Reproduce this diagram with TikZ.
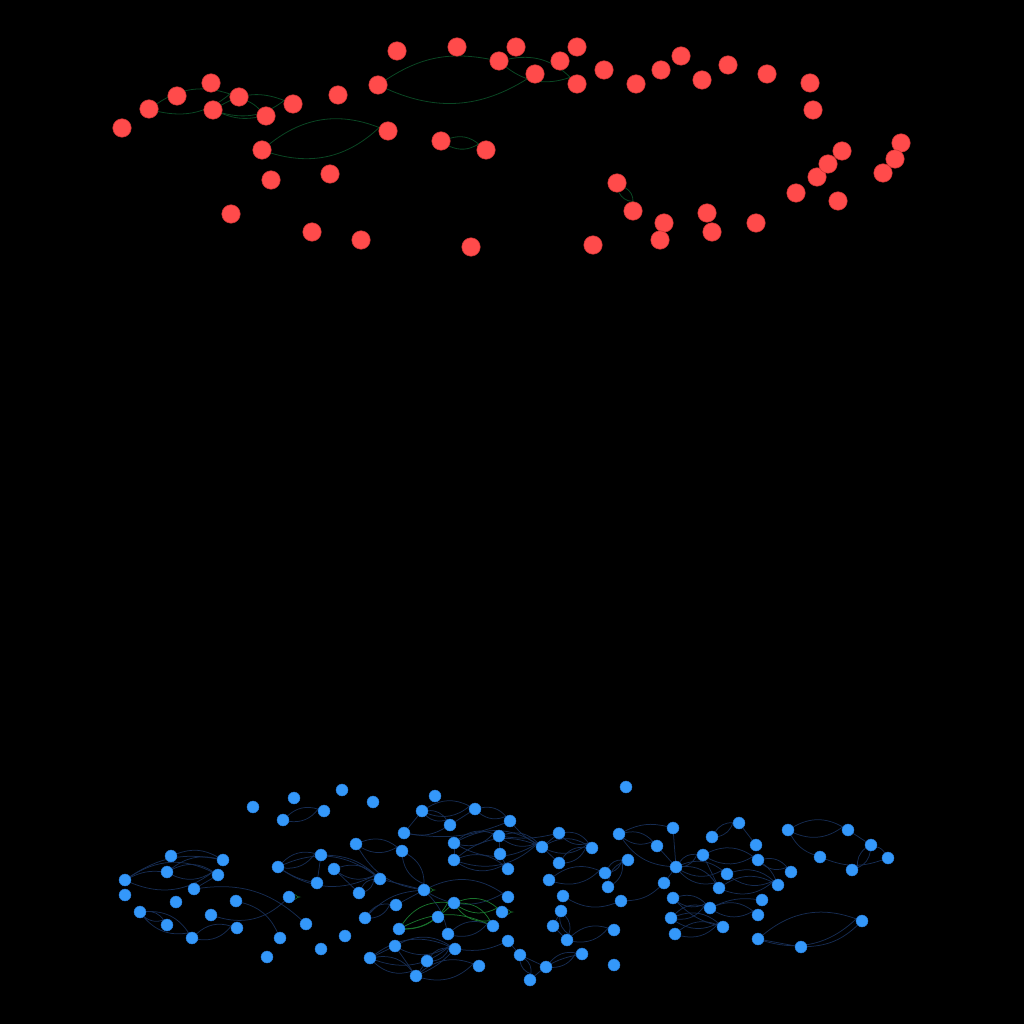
\documentclass[tikz,border=0pt]{standalone}
\usetikzlibrary{backgrounds}
\definecolor{rfill}{RGB}{255,75,75}
\definecolor{rline}{RGB}{200,50,50}
\definecolor{bfill}{RGB}{52,152,250}
\definecolor{bline}{RGB}{40,120,210}
\definecolor{redge}{RGB}{10,70,35}
\definecolor{bedge}{RGB}{22,44,82}
\definecolor{gedge}{RGB}{25,115,45}
\pgfdeclarelayer{bg}
\pgfsetlayers{bg,main}
\tikzset{
  rn/.style={circle,fill=rfill,draw=rline,line width=0.5pt,minimum size=18.5pt,inner sep=0pt},
  bn/.style={circle,fill=bfill,draw=bline,line width=0.4pt,minimum size=12pt,inner sep=0pt},
  re/.style={draw=redge,line width=0.8pt},
  be/.style={draw=bedge,line width=0.75pt},
  ge/.style={draw=gedge,line width=0.75pt},
}
\begin{document}
\begin{tikzpicture}[x=1pt,y=-1pt]
\begin{pgfonlayer}{bg}
\fill[black] (0,0) rectangle (1024,1024);
\end{pgfonlayer}
\useasboundingbox (0,0) rectangle (1024,1024);
% red nodes
\foreach \n/\x/\y in {397/397/51,457/457/47,516/516/47,577a/577/47,499/499/61,560/560/61,535/535/74,577b/577/84,604/604/70,636/636/84,661/661/70,681/681/56,702/702/80,728/728/65,767/767/74,810/810/83,813/813/110,378/378/85,338/338/95,293/293/104,266/266/116,239/239/97,213/213/110,211/211/83,177/177/96,149/149/109,122/122/128,262/262/150,388/388/131,441/441/141,486/486/150,271/271/180,330/330/174,231/231/214,312/312/232,361/361/240,471/471/247,593/593/245,617/617/183,633/633/211,664/664/223,660/660/240,707/707/213,712/712/232,756/756/223,796/796/193,817/817/177,828/828/164,842/842/151,838/838/201,901/901/143,895/895/159,883/883/173}
  {\node[rn] (r\n) at (\x,\y) {};}
% blue nodes
\foreach \x/\y in {253/807,294/798,324/811,283/820,171/856,223/860,167/872,218/875,125/880,125/895,194/889,176/902,140/912,236/901,167/925,211/915,192/938,237/928,289/897,306/924,280/938,267/957,321/949,278/867,321/855,317/883,
342/790,373/802,435/796,422/811,475/809,450/825,510/821,404/833,356/844,402/851,454/843,499/836,542/847,500/854,454/860,508/869,334/869,380/879,359/893,424/890,508/897,396/905,454/903,502/912,365/918,438/917,493/926,399/929,448/934,345/936,395/946,455/949,508/941,370/958,427/961,479/966,416/976,520/955,546/967,530/980,
626/787,559/833,592/848,559/863,619/834,673/828,657/846,712/837,739/823,628/860,605/873,608/887,549/880,676/867,703/855,727/874,664/883,719/888,563/896,621/901,673/898,561/911,710/908,553/926,671/918,723/927,614/930,675/934,567/940,582/954,614/965,
788/830,848/830,756/845,871/845,758/860,820/857,888/858,791/872,852/870,778/885,762/900,758/915,862/921,758/939,801/947}
  {\node[bn] (b\x x\y) at (\x,\y) {};}
\begin{pgfonlayer}{bg}
% red connectors
\foreach \a/\b/\c in {149/239/26,213/293/26,262/388/30,441/486/28,499/577b/28,617/633/30}
  {\draw[re] (r\a) to[bend left=\c] (r\b) to[bend left=\c] (r\a);}
\draw[re] (r378) to[bend left=22] (r499);
\draw[re] (r535) to[bend left=28] (r378);
\draw[re] (r239) to[bend left=10] (r266);
\draw[re] (r213) to[bend right=15] (r266);
% blue lenses
\foreach \a/\b in {283x820/324x811,167x872/218x875,125x880/218x875,140x912/167x925,140x912/192x938,192x938/237x928,278x867/321x855,
422x811/475x809,422x811/450x825,475x809/510x821,454x843/499x836,454x843/542x847,499x836/542x847,454x860/542x847,454x860/508x869,
356x844/402x851,402x851/424x890,334x869/380x879,359x893/380x879,424x890/508x897,365x918/396x905,448x934/493x926,
395x946/455x949,370x958/455x949,370x958/416x976,427x961/455x949,416x976/479x966,520x955/530x980,
559x833/592x848,542x847/592x848,559x863/592x848,549x880/605x873,605x873/628x860,608x887/628x860,561x911/567x940,567x940/614x930,546x967/582x954,
619x834/657x846,712x837/739x823,676x867/703x855,676x867/727x874,676x867/719x888,703x855/758x860,673x898/710x908,671x918/710x908,675x934/723x927,671x918/723x927,
788x830/848x830,871x845/852x870,758x860/791x872,727x874/778x885,719x888/778x885,758x939/862x921,710x908/758x915,278x867/380x879}
  {\draw[be] (b\a) to[bend left=30] (b\b) to[bend left=30] (b\a);}
% blue single arcs (signed bend)
\foreach \a/\b/\c in {171x856/223x860/25,167x872/223x860/25,125x880/223x860/22,125x880/167x872/15,194x889/218x875/0,194x889/306x924/25,211x915/289x897/-30,236x901/280x938/25,317x883/321x855/0,278x867/317x883/-10,
450x825/475x809/0,404x833/450x825/-20,404x833/510x821/-15,404x833/422x811/0,499x836/500x854/0,500x854/508x869/0,454x843/454x860/0,510x821/542x847/-10,499x836/559x833/-10,
356x844/424x890/-25,321x855/380x879/20,334x869/359x893/0,380x879/424x890/0,424x890/396x905/0,365x918/424x890/20,424x890/448x934/15,
370x958/395x946/0,395x946/416x976/0,416x976/455x949/-10,427x961/416x976/0,455x949/508x941/-15,508x941/520x955/0,520x955/546x967/0,530x980/582x954/15,
542x847/559x833/0,542x847/559x863/0,563x896/621x901/-25,621x901/664x883/-20,561x911/553x926/0,553x926/567x940/0,
619x834/673x828/20,619x834/676x867/-25,657x846/676x867/0,673x828/676x867/0,703x855/719x888/0,664x883/676x867/0,673x898/723x927/-15,710x908/762x900/15,
848x830/871x845/0,871x845/888x858/20,820x857/888x858/-20,788x830/820x857/-20,758x860/778x885/15,758x939/801x947/0,801x947/862x921/-20,739x823/756x845/0}
  {\draw[be] (b\a) to[bend left=\c] (b\b);}
% green connectors
\foreach \a/\b in {399x929/454x903,454x903/493x926,454x903/502x912}
  {\draw[ge] (b\a) to[bend left=30] (b\b) to[bend left=30] (b\a);}
\draw[ge] (b399x929) to[bend left=25] (b493x926);
\draw[ge] (b438x917) to (b454x903);
\draw[ge] (b438x917) to[bend left=15] (b399x929);
\foreach \n in {289x897,424x890,502x912}
  {\draw[ge,line width=0.6pt] (b\n.25) .. controls ([xshift=6pt,yshift=-3pt]b\n.east) and ([xshift=6pt,yshift=3pt]b\n.east) .. (b\n.-25);}
\end{pgfonlayer}
\end{tikzpicture}
\end{document}
